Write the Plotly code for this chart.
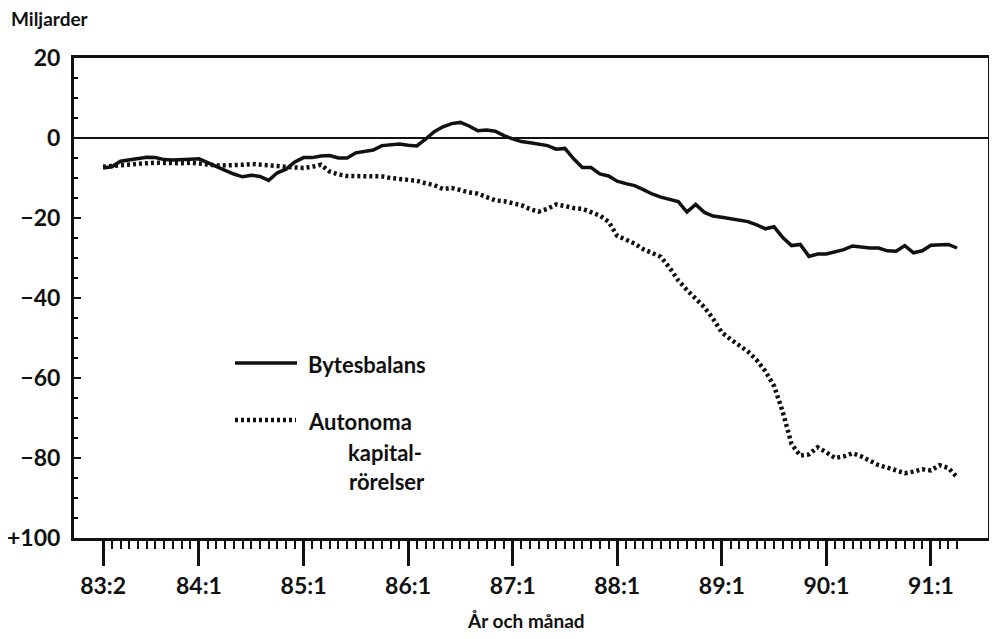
import plotly.graph_objects as go

# ---- data, monthly from 83:2 to 91:4 ----
start_period = "83:2"
bytesbalans = [
    -7.5, -7.2, -5.8, -5.4, -5.1, -4.8, -4.9, -5.4, -5.5, -5.5, -5.3,            # 83:2-83:12
    -5.2, -6.2, -7.3, -8.1, -9.0, -9.7, -9.3, -9.6, -10.6, -8.7, -7.8, -6.0,     # 84
    -4.9, -4.9, -4.5, -4.4, -5.0, -5.0, -3.7, -3.4, -3.0, -1.9, -1.6, -1.5,      # 85
    -1.8, -2.0, -0.3, 1.6, 2.8, 3.6, 3.9, 3.0, 1.8, 2.0, 1.7, 0.6,               # 86
    -0.2, -0.9, -1.2, -1.5, -1.9, -2.8, -2.6, -5.2, -7.4, -7.4, -9.0, -9.5,      # 87
    -10.8, -11.4, -11.9, -12.9, -14.0, -14.8, -15.3, -15.9, -18.5, -16.6, -18.6, -19.5,  # 88
    -19.8, -20.1, -20.5, -20.9, -21.7, -22.7, -22.2, -24.9, -26.9, -26.6, -29.6, -29.0,  # 89
    -29.0, -28.5, -27.9, -27.0, -27.3, -27.5, -27.5, -28.2, -28.3, -26.9, -28.7, -28.2,  # 90
    -26.8, -26.6, -26.6, -27.5,                                                   # 91:1-91:4
]
autonoma_kapitalrorelser = [
    -7.2, -7.0, -6.7, -6.5, -6.4, -6.3, -6.2, -6.3, -6.2, -6.3, -6.2,
    -6.3, -6.6, -6.9, -6.9, -6.9, -6.7, -6.5, -6.6, -6.8, -7.0, -7.2, -7.4,
    -7.5, -7.2, -6.7, -8.4, -9.1, -9.5, -9.5, -9.5, -9.5, -9.6, -10.0, -10.3,
    -10.6, -10.7, -11.3, -11.8, -12.75, -12.5, -13.0, -13.6, -13.9, -14.7, -15.6, -15.8,
    -16.2, -16.8, -17.8, -18.4, -17.7, -16.6, -17.0, -17.5, -17.7, -18.5, -19.4, -20.9,
    -24.5, -25.4, -26.4, -27.8, -28.7, -29.7, -32.4, -35.6, -38.0, -40.2, -42.3, -45.2,
    -48.6, -50.3, -51.9, -53.4, -55.5, -58.3, -62.0, -68.5, -76.5, -79.4, -79.1, -77.3,
    -78.6, -80.0, -79.6, -78.8, -79.6, -80.6, -81.8, -82.4, -83.0, -83.8, -83.4, -82.8,
    -83.1, -81.8, -82.5, -84.8,
]
x_tick_labels = ["83:2", "84:1", "85:1", "86:1", "87:1", "88:1", "89:1", "90:1", "91:1"]
y_tick_values = [20, 0, -20, -40, -60, -80, -100]
y_tick_labels = ["20", "0", "\u221220", "\u221240", "\u221260", "\u221280", "+100"]
series_names = ["Bytesbalans", "Autonoma kapitalrörelser"]


def month_index(period):
    yy, mm = period.split(":")
    return (int(yy) - 83) * 12 + (int(mm) - 1)


x0 = month_index(start_period)
months = list(range(x0, x0 + len(bytesbalans)))
x_tick_pos = [month_index(p) for p in x_tick_labels]

FONT = "Lato"
BLACK = "#111111"
WEIGHT = "bold"

fig = go.Figure()
fig.add_trace(go.Scatter(x=months, y=bytesbalans, mode="lines", name=series_names[0],
                         line=dict(color=BLACK, width=3.5), showlegend=False))
fig.add_trace(go.Scatter(x=months, y=autonoma_kapitalrorelser, mode="lines", name=series_names[1],
                         line=dict(color=BLACK, width=4.5, dash="3px,3px"), showlegend=False))

# page body has an 8px margin, so the figure is sized/offset accordingly
fig.update_layout(
    width=989, height=631,
    margin=dict(l=66, r=9, t=50, b=101),
    paper_bgcolor="white", plot_bgcolor="white",
    font=dict(family=FONT, size=20, color=BLACK, weight=WEIGHT),
    showlegend=False,
)

xtickfont = dict(family=FONT, size=23, color=BLACK, weight=WEIGHT)
ytickfont = dict(family=FONT, size=23, color=BLACK, weight=WEIGHT)
labfont = dict(family=FONT, size=19, color=BLACK, weight=WEIGHT)
legfont = dict(family=FONT, size=22, color=BLACK, weight=WEIGHT)

fig.update_xaxes(
    range=[-2.34, 102.55], automargin=False,
    tickmode="array", tickvals=x_tick_pos, ticktext=x_tick_labels,
    ticks="outside", ticklen=25, tickwidth=3, tickcolor=BLACK,
    minor=dict(tickmode="array", tickvals=months, ticks="outside", ticklen=8,
               tickwidth=1.5, tickcolor=BLACK, showgrid=False),
    showline=True, linecolor=BLACK, linewidth=3, mirror=True,
    showgrid=False, zeroline=False,
    tickfont=xtickfont,
)
fig.update_yaxes(
    range=[-100, 20], automargin=False,
    tickmode="array", tickvals=y_tick_values, ticktext=y_tick_labels,
    ticks="inside", ticklen=7, tickwidth=2, tickcolor=BLACK,
    minor=dict(dtick=5, tick0=0, ticks="inside", ticklen=4, tickwidth=1.5,
               tickcolor=BLACK, showgrid=False),
    showline=True, linecolor=BLACK, linewidth=3, mirror=True,
    showgrid=False, zeroline=True, zerolinecolor=BLACK, zerolinewidth=2,
    ticklabelstandoff=6,
    tickfont=ytickfont,
)


# helpers: screen pixel -> paper coords (plot area spans x 74..988, y 58..538 on screen)
def px_x(px):
    return (px - 74) / 914


def px_y(py):
    return (538 - py) / 480


# axis titles
fig.add_annotation(text="Miljarder", xref="paper", yref="paper", x=px_x(9), y=px_y(18),
                   xanchor="left", yanchor="middle", showarrow=False, font=labfont)
fig.add_annotation(text="År och månad", xref="paper", yref="paper", x=px_x(526), y=px_y(620),
                   xanchor="center", yanchor="middle", showarrow=False, font=labfont)

# hand-placed legend
fig.add_shape(type="line", xref="paper", yref="paper", x0=px_x(235), x1=px_x(297),
              y0=px_y(363), y1=px_y(363), line=dict(color=BLACK, width=3.5))
fig.add_shape(type="line", xref="paper", yref="paper", x0=px_x(235), x1=px_x(296),
              y0=px_y(420), y1=px_y(420), line=dict(color=BLACK, width=4.5, dash="3px,3px"))
fig.add_annotation(text="Bytesbalans", xref="paper", yref="paper", x=px_x(306), y=px_y(364),
                   xanchor="left", yanchor="middle", showarrow=False, font=legfont)
fig.add_annotation(text="Autonoma", xref="paper", yref="paper", x=px_x(306), y=px_y(421),
                   xanchor="left", yanchor="middle", showarrow=False, font=legfont)
fig.add_annotation(text="kapital-", xref="paper", yref="paper", x=px_x(346), y=px_y(452),
                   xanchor="left", yanchor="middle", showarrow=False, font=legfont)
fig.add_annotation(text="rörelser", xref="paper", yref="paper", x=px_x(347), y=px_y(481),
                   xanchor="left", yanchor="middle", showarrow=False, font=legfont)

fig.write_html("out.html")
